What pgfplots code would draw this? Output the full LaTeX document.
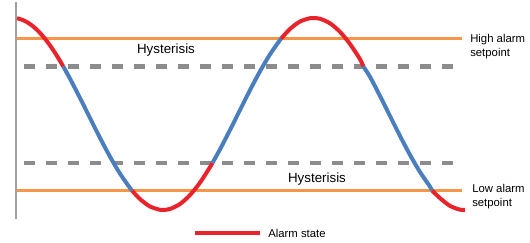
\documentclass[border=0pt]{standalone}
\usepackage{pgfplots}
\pgfplotsset{compat=1.18}
\usepackage{fontspec}
\setmainfont{Liberation Sans}

\definecolor{alarmred}{HTML}{E8232B}
\definecolor{normalblue}{HTML}{4A7EBE}
\definecolor{setorange}{HTML}{F79646}
\definecolor{hystgray}{HTML}{8C8C8C}
\definecolor{axisgray}{HTML}{A0A0A0}

\begin{document}
\begin{tikzpicture}
\begin{axis}[
  scale only axis,
  width=397.5pt, height=181.5pt,
  xmin=0, xmax=530, ymin=0, ymax=242,
  hide axis, clip=false,
]
% frame of the whole picture
\path (axis cs:0,0) rectangle (axis cs:530,242);

% vertical axis
\addplot[axisgray, line width=1.1pt, no markers] coordinates {(16,240) (16,23)};

% setpoints
\addplot[setorange, line width=2.25pt, no markers] coordinates {(17,203.5) (462,203.5)};
\addplot[setorange, line width=2.25pt, no markers] coordinates {(17,51.3) (462,51.3)};

% hysteresis limits
\addplot[hystgray, line width=3.2pt, no markers, dash pattern=on 8.25pt off 8.25pt]
  coordinates {(24,175.5) (453,175.5)};
\addplot[hystgray, line width=3.2pt, no markers, dash pattern=on 8.25pt off 8.25pt]
  coordinates {(24,79) (453,79)};

% process value, red while in alarm
\pgfplotsset{pv/.style={line width=3pt, no markers, smooth, line join=round}}
\addplot[pv, alarmred] coordinates {
  (17,223.66) (20,222.97) (25,220.98) (30,217.98) (35,213.99) (40,209.05)
  (45,203.24) (50,196.59) (55,189.19) (60,181.13) (63.28,175.5)};
\addplot[pv, normalblue] coordinates {
  (63.28,175.5) (70,163.34) (80,144.01) (90,123.98) (100,104.13) (110,85.32)
  (120,68.37) (130,54.03) (132.2,51.3)};
\addplot[pv, alarmred] coordinates {
  (132.2,51.3) (140,42.93) (150,35.53) (160,32.19) (163,32) (170,33.03)
  (180,38.02) (190,46.95) (200,59.41) (210,74.87) (212.42,79)};
\addplot[pv, normalblue] coordinates {
  (212.42,79) (220,92.66) (230,111.99) (240,132.02) (250,151.88) (260,170.68)
  (270,187.63) (280,201.97) (281.22,203.5)};
\addplot[pv, alarmred] coordinates {
  (281.22,203.5) (290,213.07) (300,220.47) (310,223.81) (313,224) (320,223.24)
  (330,218.66) (340,210.12) (350,197.98) (360,182.79) (363.28,175.5)};
\addplot[pv, normalblue] coordinates {
  (363.28,175.5) (370,165.20) (380,145.99) (390,125.99) (400,106.07)
  (410,87.12) (420,69.96) (430,55.33) (432.2,51.3)};
\addplot[pv, alarmred] coordinates {
  (432.2,51.3) (440,43.88) (450,36.10) (460,32.34) (465,32.09)};

% labels
\node[font=\fontsize{10}{12}\selectfont] at (axis cs:166,192) {Hysterisis};
\node[font=\fontsize{10}{12}\selectfont] at (axis cs:317,63) {Hysterisis};
\node[anchor=west, align=left, font=\fontsize{8.5}{10.5}\selectfont, inner sep=0pt]
  at (axis cs:470,195.5) {High alarm\\setpoint};
\node[anchor=west, align=left, font=\fontsize{8.5}{10.5}\selectfont, inner sep=0pt]
  at (axis cs:472,45) {Low alarm\\setpoint};

% legend
\addplot[alarmred, line width=3pt, no markers] coordinates {(195,9) (260,9)};
\node[anchor=west, font=\fontsize{8.5}{10.5}\selectfont, inner sep=0pt]
  at (axis cs:268,9) {Alarm state};
\end{axis}
\end{tikzpicture}
\end{document}
